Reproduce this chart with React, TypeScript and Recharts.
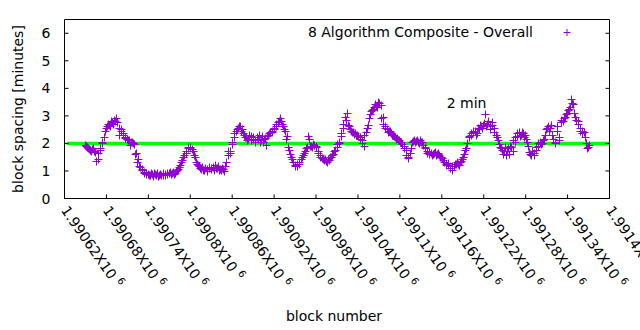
import {
  ScatterChart,
  Scatter,
  XAxis,
  YAxis,
  Label,
  Legend,
  ReferenceArea,
  ReferenceLine,
  ReferenceDot,
} from "recharts";

const FONT = "'DejaVu Sans', sans-serif";
const PURPLE = "#9400d3";
const GREEN = "#00ff00";

const SERIES_NAME = "8 Algorithm Composite - Overall";

// readings every 3 blocks starting at FIRST_BLOCK, plus a second pass
// one block later so the band keeps its spread
const FIRST_BLOCK = 1990650;
const BLOCK_STEP = 3;
const SPACING_MINUTES = [
  1.92, 1.85, 1.78, 1.72, 1.8, 1.68, 1.42, 1.75, 1.98, 2.22,
  2.55, 2.7, 2.62, 2.75, 2.85, 2.9, 2.55, 2.42, 2.3, 2.22,
  2.15, 2.1, 2.02, 1.98, 1.58, 1.3, 1.18, 1.05, 0.95, 0.9,
  0.88, 0.82, 0.86, 0.9, 0.84, 0.8, 0.87, 0.85, 0.83, 0.9,
  0.92, 0.88, 0.95, 0.92, 1.0, 1.12, 1.3, 1.5, 1.72, 1.82,
  1.85, 1.78, 1.55, 1.3, 1.2, 1.08, 1.12, 1.0, 1.06, 1.1,
  1.05, 1.12, 1.2, 1.08, 1.02, 1.0, 1.05, 1.15, 1.55, 1.72,
  1.95, 2.2, 2.45, 2.55, 2.6, 2.5, 2.3, 2.2, 2.15, 2.25,
  2.15, 2.05, 2.2, 2.3, 2.12, 2.02, 2.18, 2.25, 2.35, 2.45,
  2.5, 2.62, 2.75, 2.9, 2.7, 2.5, 2.15, 1.85, 1.6, 1.4,
  1.2, 1.15, 1.22, 1.4, 1.55, 1.72, 1.85, 2.15, 1.9, 1.95,
  1.9, 1.7, 1.55, 1.45, 1.38, 1.35, 1.42, 1.48, 1.55, 1.7,
  1.85, 2.0, 2.25, 2.55, 2.95, 3.1, 2.6, 2.45, 2.4, 2.35,
  2.3, 2.2, 2.1, 1.88, 2.4, 2.65, 3.05, 3.2, 3.3, 3.35,
  3.5, 3.38, 2.95, 2.6, 2.5, 2.42, 2.35, 2.3, 2.22, 2.18,
  2.12, 2.05, 1.88, 1.75, 1.5, 1.62, 2.02, 2.1, 2.08, 2.05,
  2.1, 2.02, 1.85, 1.72, 1.6, 1.65, 1.58, 1.68, 1.6, 1.55,
  1.5, 1.38, 1.25, 1.2, 1.15, 1.0, 1.18, 1.22, 1.25, 1.3,
  1.4, 1.6, 1.82, 2.2, 2.3, 2.38, 2.42, 2.35, 2.5, 2.6,
  2.65, 3.05, 2.7, 2.6, 2.75, 2.55, 2.3, 2.1, 1.85, 1.75,
  1.72, 1.55, 1.8, 1.9, 1.7, 2.05, 2.25, 2.4, 2.3, 2.35,
  2.3, 2.05, 1.68, 1.55, 1.62, 1.75, 1.9, 2.05, 1.98, 2.15,
  2.5, 2.6, 2.55, 2.3, 2.05, 2.45, 2.2, 2.85, 2.8, 2.95,
  3.1, 3.25, 3.6, 3.4, 2.95, 2.8, 2.55, 2.45, 2.38, 2.0, 1.85,
];
const SPACING_MINUTES_NEXT = [
  1.88, 1.8, 1.75, 1.78, 1.7, 1.35, 1.62, 1.8, 2.05, 2.45,
  2.6, 2.65, 2.78, 2.7, 2.8, 2.75, 2.3, 2.5, 2.35, 2.18,
  2.1, 1.92, 2.05, 1.95, 1.62, 1.4, 1.12, 1.0, 0.92, 0.86,
  0.85, 0.9, 0.8, 0.86, 0.92, 0.85, 0.82, 0.9, 0.88, 0.86,
  0.95, 0.9, 0.88, 0.98, 1.05, 1.2, 1.38, 1.55, 1.65, 1.85,
  1.8, 1.7, 1.48, 1.25, 1.15, 1.05, 1.02, 1.1, 0.98, 1.12,
  1.1, 1.02, 1.08, 1.15, 1.05, 1.1, 0.98, 1.3, 1.7, 1.62,
  2.05, 2.35, 2.5, 2.6, 2.45, 2.35, 2.2, 2.12, 2.3, 2.1,
  2.2, 2.12, 2.15, 2.05, 2.25, 2.15, 1.93, 2.3, 2.4, 2.38,
  2.55, 2.7, 2.8, 2.78, 2.6, 2.45, 2.25, 1.75, 1.5, 1.3,
  1.18, 1.25, 1.3, 1.48, 1.62, 1.8, 2.25, 1.88, 1.85, 1.92,
  1.85, 1.62, 1.5, 1.4, 1.42, 1.3, 1.38, 1.5, 1.6, 1.75,
  1.95, 2.05, 2.35, 2.7, 2.85, 2.65, 2.5, 2.4, 2.32, 2.28,
  2.25, 2.15, 2.0, 2.3, 2.55, 2.9, 3.15, 3.25, 3.4, 3.3,
  3.45, 2.9, 2.7, 2.55, 2.38, 2.45, 2.28, 2.25, 2.15, 2.1,
  2.05, 1.95, 1.82, 1.55, 1.45, 1.8, 2.08, 2.05, 2.12, 2.0,
  2.05, 1.92, 1.8, 1.65, 1.68, 1.55, 1.62, 1.55, 1.65, 1.48,
  1.45, 1.3, 1.2, 1.28, 1.1, 1.15, 1.22, 1.3, 1.2, 1.35,
  1.5, 1.75, 2.0, 2.25, 2.35, 2.45, 2.3, 2.55, 2.65, 2.55,
  2.72, 2.6, 2.8, 2.5, 2.65, 2.4, 2.2, 1.95, 1.8, 1.6,
  1.85, 1.7, 1.6, 1.85, 2.1, 2.2, 2.35, 2.25, 2.4, 2.2,
  2.15, 1.9, 1.6, 1.7, 1.55, 1.85, 2.0, 1.95, 2.1, 2.3,
  2.55, 2.45, 2.65, 2.15, 2.0, 2.6, 2.1, 2.75, 2.9, 3.05,
  3.2, 3.3, 3.45, 3.1, 2.85, 2.7, 2.45, 2.35, 2.2, 1.8, 1.92,
];

const X_DOMAIN = [1990620, 1991400];
const X_TICKS = [
  1990620, 1990680, 1990740, 1990800, 1990860, 1990920, 1990980,
  1991040, 1991100, 1991160, 1991220, 1991280, 1991340, 1991400,
];
const Y_DOMAIN = [0, 6.5];
const Y_TICKS = [0, 1, 2, 3, 4, 5, 6];

// 2 minute target line and its note
const TARGET_MINUTES = 2;
const TARGET_FROM_BLOCK = 1990623;
const NOTE_TEXT = "2 min";
const NOTE_BLOCK = 1991167;
const NOTE_MINUTES = 3.3;

const points = [
  ...SPACING_MINUTES.map((minutes, i) => ({
    block: FIRST_BLOCK + i * BLOCK_STEP,
    minutes,
  })),
  ...SPACING_MINUTES_NEXT.map((minutes, i) => ({
    block: FIRST_BLOCK + 1 + i * BLOCK_STEP,
    minutes,
  })),
];

const crisp = (v: number) => Math.round(v - 0.5) + 0.5;

function PlusMark(props: any) {
  const { cx, cy } = props;
  if (cx == null || cy == null) return null;
  const x = crisp(cx);
  const y = crisp(cy);
  return (
    <path
      d={`M${x - 4},${y}H${x + 4}M${x},${y - 4}V${y + 4}`}
      stroke={PURPLE}
      strokeWidth={1}
      fill="none"
    />
  );
}

function XTick(props: any) {
  const { x, y, payload } = props;
  const mantissa = String(payload.value / 1e6);
  return (
    <g>
      <line x1={x} y1={y} x2={x} y2={y - 4} stroke="#000" />
      <text
        transform={`translate(${x},${y + 9}) rotate(55)`}
        textAnchor="start"
        dominantBaseline="central"
        fontFamily={FONT}
        fontSize={14}
        fill="#000"
      >
        {mantissa}X10{" "}
        <tspan dy={-5} fontSize={10}>
          6
        </tspan>
      </text>
    </g>
  );
}

function YTickLeft(props: any) {
  const { x, y, payload } = props;
  return (
    <g>
      <line x1={x} y1={y} x2={x + 4} y2={y} stroke="#000" />
      <text
        x={x - 14}
        y={y}
        textAnchor="end"
        dominantBaseline="central"
        fontFamily={FONT}
        fontSize={14}
        fill="#000"
      >
        {payload.value}
      </text>
    </g>
  );
}

function YTickRight(props: any) {
  const { x, y } = props;
  return <line x1={x} y1={y} x2={x - 4} y2={y} stroke="#000" />;
}

function YTitle(props: any) {
  const vb = props.viewBox;
  const cx = vb.x + 18;
  const cy = vb.y + vb.height / 2;
  return (
    <text
      x={cx}
      y={cy}
      transform={`rotate(-90, ${cx}, ${cy})`}
      textAnchor="middle"
      dominantBaseline="central"
      fontFamily={FONT}
      fontSize={14}
      fill="#000"
    >
      block spacing [minutes]
    </text>
  );
}

function XTitle(props: any) {
  const vb = props.viewBox;
  return (
    <text
      x={vb.x + vb.width / 2 - 3}
      y={vb.y + vb.height - 14}
      textAnchor="middle"
      dominantBaseline="central"
      fontFamily={FONT}
      fontSize={14}
      fill="#000"
    >
      block number
    </text>
  );
}

function NoteText(props: any) {
  return (
    <text x={props.cx} y={props.cy} fontFamily={FONT} fontSize={14} fill="#000">
      {NOTE_TEXT}
    </text>
  );
}

function LegendContent(props: any) {
  const item = props.payload?.[0];
  return (
    <div
      style={{
        display: "flex",
        alignItems: "center",
        height: 18,
        fontFamily: FONT,
        fontSize: 14,
        color: "#000",
      }}
    >
      <span style={{ width: 233, textAlign: "right", whiteSpace: "nowrap" }}>
        {item ? item.value : SERIES_NAME}
      </span>
      <svg width={47} height={18}>
        <path d="M30.5,9.5h7M34,6v7" stroke={PURPLE} fill="none" />
      </svg>
    </div>
  );
}

export default function App() {
  return (
    <div style={{ width: 640, height: 330, background: "#fff" }}>
      <style>{"body{margin:0}"}</style>
      <ScatterChart
        width={640}
        height={330}
        margin={{ top: 19.5, right: 0, bottom: 0, left: 0 }}
      >
        <XAxis
          type="number"
          dataKey="block"
          domain={X_DOMAIN}
          ticks={X_TICKS}
          interval={0}
          allowDataOverflow
          height={131.5}
          tickSize={0}
          tickMargin={0}
          axisLine={false}
          tickLine={false}
          tick={XTick}
        >
          <Label content={XTitle} />
        </XAxis>
        <YAxis
          type="number"
          dataKey="minutes"
          domain={Y_DOMAIN}
          ticks={Y_TICKS}
          interval={0}
          allowDataOverflow
          width={64.5}
          tickSize={0}
          tickMargin={0}
          axisLine={false}
          tickLine={false}
          tick={YTickLeft}
        >
          <Label content={YTitle} />
        </YAxis>
        <YAxis
          yAxisId="right"
          orientation="right"
          type="number"
          domain={Y_DOMAIN}
          ticks={Y_TICKS}
          interval={0}
          allowDataOverflow
          width={30.5}
          tickSize={0}
          tickMargin={0}
          axisLine={false}
          tickLine={false}
          tick={YTickRight}
        />
        <ReferenceArea
          x1={X_DOMAIN[0]}
          x2={X_DOMAIN[1]}
          y1={Y_DOMAIN[0]}
          y2={Y_DOMAIN[1]}
          fill="none"
          stroke="#000"
          strokeWidth={1}
        />
        <Legend
          layout="horizontal"
          verticalAlign="middle"
          align="center"
          wrapperStyle={{ top: 23, left: 300, width: 280, height: 18 }}
          content={LegendContent}
        />
        <Scatter
          name={SERIES_NAME}
          data={points}
          fill={PURPLE}
          shape={PlusMark}
          isAnimationActive={false}
        />
        <ReferenceLine
          segment={[
            { x: TARGET_FROM_BLOCK, y: TARGET_MINUTES },
            { x: X_DOMAIN[1], y: TARGET_MINUTES },
          ]}
          stroke={GREEN}
          strokeWidth={3.5}
        />
        <ReferenceDot
          x={NOTE_BLOCK}
          y={NOTE_MINUTES}
          r={0}
          shape={NoteText}
        />
      </ScatterChart>
    </div>
  );
}
